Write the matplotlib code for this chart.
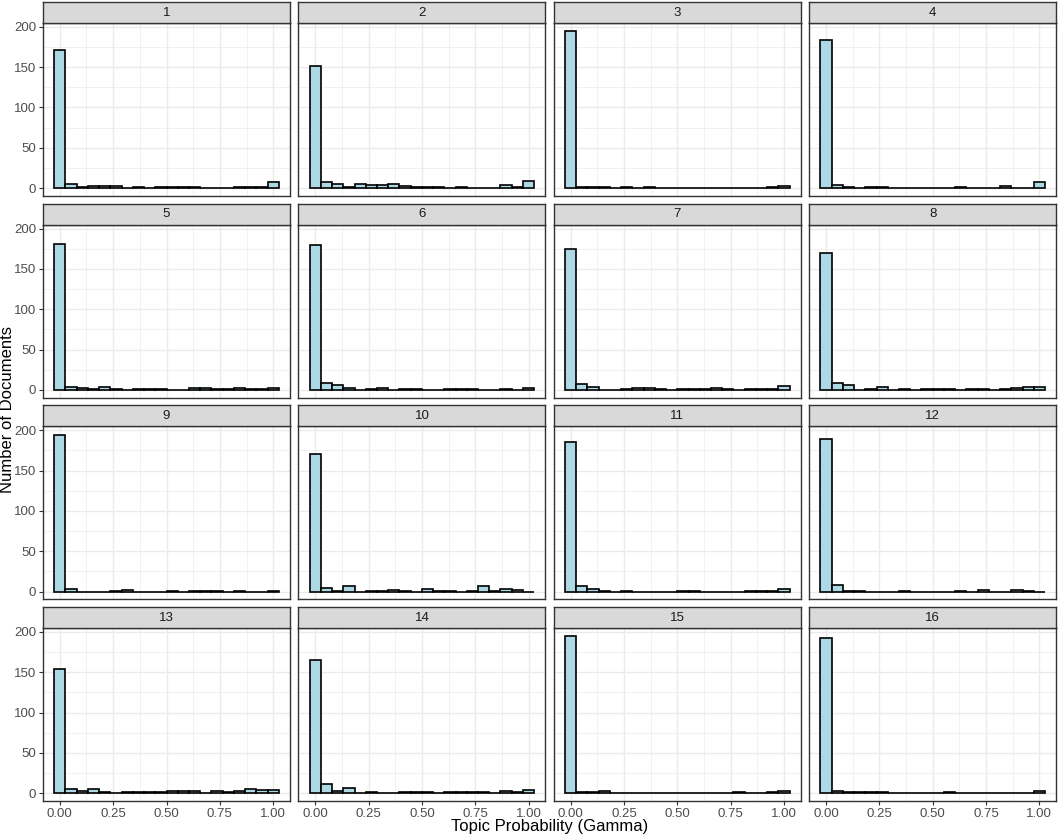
import numpy as np
import matplotlib
matplotlib.use('Agg')
import matplotlib.pyplot as plt

plt.rcParams['font.family'] = ['Liberation Sans', 'DejaVu Sans']

# counts per histogram bin (20 bins of width 1/19, centred on 0, 1/19, ..., 1)
topic1 = [171, 5, 1, 3, 3, 3, 0, 1, 0, 2, 1, 1, 1, 0, 0, 0, 2, 2, 1, 8]
topic2 = [152, 7, 5, 2, 5, 4, 4, 5, 3, 2, 2, 1, 0, 2, 0, 0, 0, 4, 1, 9]
topic3 = [195, 2, 2, 1, 0, 1, 0, 1, 0, 0, 0, 0, 0, 0, 0, 0, 0, 0, 1, 3]
topic4 = [184, 4, 1, 0, 1, 2, 0, 0, 0, 0, 0, 0, 1, 0, 0, 0, 3, 0, 0, 8]
topic5 = [181, 3, 2, 1, 3, 1, 0, 1, 1, 1, 0, 0, 2, 2, 1, 1, 2, 1, 1, 2]
topic6 = [179, 9, 6, 2, 0, 1, 2, 0, 1, 1, 0, 0, 1, 1, 1, 0, 0, 1, 0, 2]
topic7 = [175, 7, 4, 0, 0, 1, 2, 2, 1, 0, 1, 1, 1, 2, 1, 0, 1, 1, 1, 5]
topic8 = [170, 8, 6, 0, 1, 4, 0, 1, 0, 1, 1, 1, 0, 1, 1, 0, 1, 2, 3, 4]
topic9 = [194, 3, 0, 0, 0, 1, 2, 0, 0, 0, 1, 0, 1, 1, 1, 0, 1, 0, 0, 1]
topic10 = [170, 4, 1, 7, 0, 1, 1, 2, 1, 0, 3, 1, 1, 0, 1, 7, 1, 3, 2, 0]
topic11 = [186, 7, 3, 1, 0, 1, 0, 0, 0, 0, 1, 1, 0, 0, 0, 0, 1, 1, 1, 3]
topic12 = [189, 8, 1, 1, 0, 0, 0, 1, 0, 0, 0, 0, 1, 0, 2, 0, 0, 2, 1, 0]
topic13 = [154, 5, 3, 5, 2, 0, 1, 2, 2, 2, 3, 3, 3, 0, 3, 2, 3, 5, 4, 4]
topic14 = [165, 11, 3, 6, 0, 1, 0, 0, 1, 1, 2, 0, 2, 1, 1, 2, 0, 3, 2, 4]
topic15 = [195, 1, 1, 3, 0, 0, 0, 0, 0, 0, 0, 0, 0, 0, 0, 1, 0, 0, 1, 3]
topic16 = [193, 3, 1, 2, 1, 1, 0, 0, 0, 0, 0, 1, 0, 0, 0, 0, 0, 0, 0, 3]

topics = [topic1, topic2, topic3, topic4, topic5, topic6, topic7, topic8,
          topic9, topic10, topic11, topic12, topic13, topic14, topic15, topic16]
labels = [str(i + 1) for i in range(16)]

n_bins = 20
bw = 1 / (n_bins - 1)
centers = np.arange(n_bins) * bw

W, H = 1059, 836
fig = plt.figure(figsize=(W / 100, H / 100), dpi=100)
fig.patch.set_facecolor('white')

grey20 = '#333333'
grid_col = '#EBEBEB'
pw, ph, sh = 247, 173, 21

for i, counts in enumerate(topics):
    r, c = divmod(i, 4)
    left = 43 + c * 255.4
    top = 23 + r * 201.7
    ax = fig.add_axes([left / W, 1 - (top + ph) / H, pw / W, ph / H])
    ax.bar(centers, counts, width=bw, color='#ADD8E6', edgecolor='black',
           linewidth=1.2, zorder=3)
    ax.set_xlim(-0.0789, 1.0789)
    ax.set_ylim(-9.75, 204.75)
    ax.set_xticks([0, 0.25, 0.5, 0.75, 1.0])
    ax.set_xticks([0.125, 0.375, 0.625, 0.875], minor=True)
    ax.set_yticks([0, 50, 100, 150, 200])
    ax.set_yticks([25, 75, 125, 175], minor=True)
    ax.grid(which='major', color=grid_col, linewidth=1.0, zorder=0)
    ax.grid(which='minor', color=grid_col, linewidth=0.5, zorder=0)
    ax.set_axisbelow(True)
    for s in ax.spines.values():
        s.set_color(grey20)
        s.set_linewidth(1.0)
    ax.tick_params(which='minor', length=0)
    ax.tick_params(which='major', length=3, width=0.8, color=grey20,
                   labelsize=9.5, labelcolor='#4D4D4D', pad=2)
    if c == 0:
        ax.set_yticklabels(['0', '50', '100', '150', '200'])
    else:
        ax.tick_params(axis='y', which='major', length=0, labelleft=False)
    if r == 3:
        ax.set_xticklabels(['0.00', '0.25', '0.50', '0.75', '1.00'])
    else:
        ax.tick_params(axis='x', which='major', length=0, labelbottom=False)

    st = fig.add_axes([left / W, 1 - top / H, pw / W, sh / H])
    st.set_facecolor('#D9D9D9')
    st.set_xticks([])
    st.set_yticks([])
    for s in st.spines.values():
        s.set_color(grey20)
        s.set_linewidth(1.0)
    st.text(0.5, 0.5, labels[i], ha='center', va='center', fontsize=9.5,
            color='#1A1A1A', transform=st.transAxes)

fig.text(550 / W, 1 - 826 / H, 'Topic Probability (Gamma)', ha='center',
         va='center', fontsize=12)
fig.text(8 / W, 1 - 410 / H, 'Number of Documents', ha='center',
         va='center', rotation=90, fontsize=12)

fig.savefig('out.png', dpi=100)
